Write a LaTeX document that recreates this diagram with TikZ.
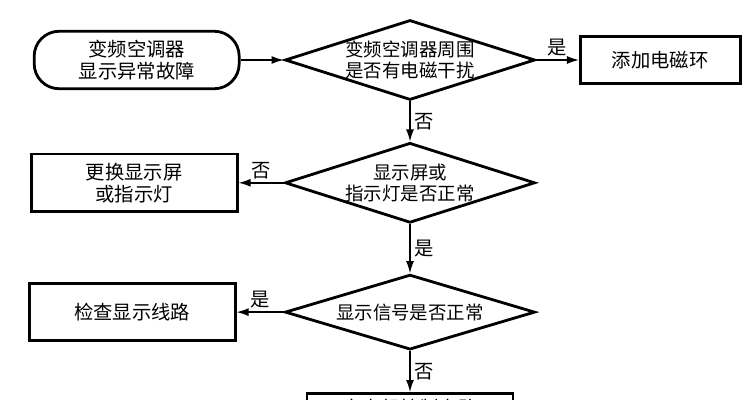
\documentclass[tikz,border=0pt]{standalone}
\usepackage{fontspec}
\setmainfont{Noto Sans CJK SC}
\usetikzlibrary{shapes.geometric}
\usetikzlibrary{positioning}
\usetikzlibrary{arrows.meta}

\begin{document}
\begin{tikzpicture}
[->,>={Latex[length=2.4mm,width=1.6mm]},line width=0.8pt,%
  box/.style={shape=rectangle,draw,line width=1.6pt,align=center,minimum width=4.12cm,minimum height=1.15cm},%
  decide/.style={shape=diamond,draw,line width=1.6pt,align=center,aspect=3.1,inner sep=-2pt,minimum width=5cm,minimum height=1.6cm,font=\fontsize{10.5}{12}\selectfont},%
  lbl/.style={inner sep=2pt}]
\fontsize{11}{12.5}\selectfont
\useasboundingbox (-8.2,-6.8) rectangle (6.84,1.2);
\clip (-8.2,-6.8) rectangle (6.84,1.2);
% decisions
\node[decide] (noise) at (0,0) {变频空调器周围\\是否有电磁干扰};
\node[decide,below=0.8cm of noise] (screen) {显示屏或\\指示灯是否正常};
\node[decide,minimum height=1.5cm,below=0.98cm of screen] (signal) {显示信号是否正常};
% boxes
\node[box,rounded corners=0.5cm,minimum width=4.1cm,left=0.86cm of noise] (start) {变频空调器\\显示异常故障};
\node[box,minimum width=3.2cm,minimum height=0.94cm,right=0.85cm of noise] (ring) {添加电磁环};
\node[box,left=0.9cm of screen] (swap) {更换显示屏\\或指示灯};
\node[box,left=0.94cm of signal] (wire) {检查显示线路};
\node[box,minimum height=0.6cm,inner ysep=0.1cm,below=0.82cm of signal] (ctrl) {室内机控制电路};
% arrows
\draw (start) -- (noise);
\draw (noise) -- node[lbl,above] {是} (ring);
\draw (noise) -- node[lbl,right] {否} (screen);
\draw (screen) -- node[lbl,above] {否} (swap);
\draw (screen) -- node[lbl,right] {是} (signal);
\draw (signal) -- node[lbl,above] {是} (wire);
\draw (signal) -- node[lbl,right] {否} (ctrl);
\end{tikzpicture}
\end{document}
